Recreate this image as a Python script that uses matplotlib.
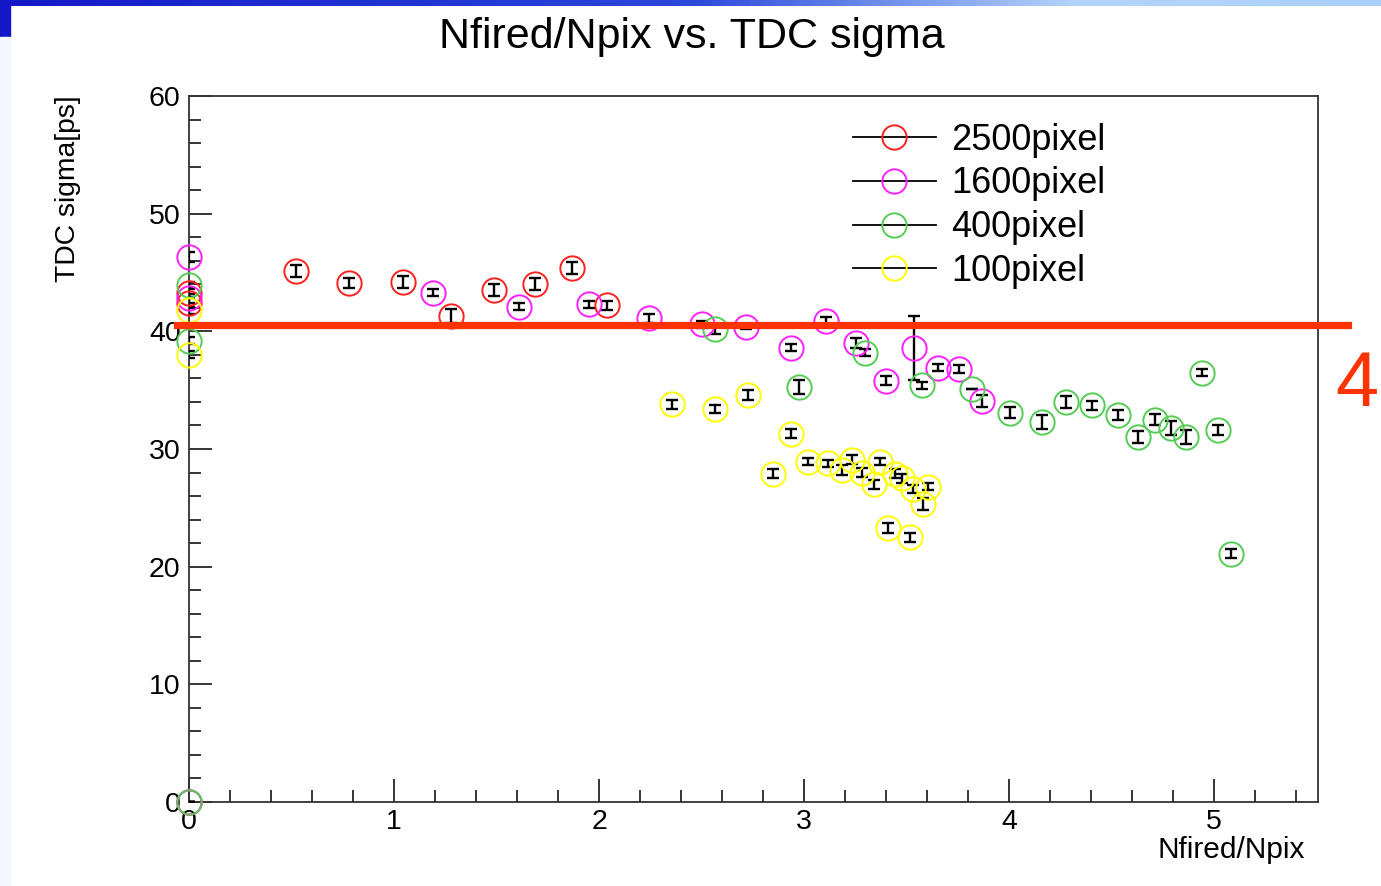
# plot.py
# Nfired/Npix vs. TDC sigma (ROOT-style scatter with error bars)

import numpy as np
import matplotlib
matplotlib.use("Agg")
import matplotlib.pyplot as plt
from matplotlib.lines import Line2D
from matplotlib.patches import Rectangle
from matplotlib.colors import LinearSegmentedColormap

plt.rcParams["font.family"] = ["Liberation Sans", "DejaVu Sans"]

# --- data ---
x_2500 = [0, 0, 0, 0.52, 0.78, 1.045, 1.28, 1.49, 1.69, 1.87, 2.04]
y_2500 = [0, 43.3, 42.4, 45.1, 44.1, 44.2, 41.3, 43.5, 44.0, 45.4, 42.2]
e_2500 = [0, 0.4, 0.4, 0.5, 0.4, 0.5, 0.6, 0.5, 0.5, 0.5, 0.4]

x_1600 = [0, 0, 0, 1.19, 1.61, 1.95, 2.245, 2.50, 2.717, 2.935, 3.107,
          3.254, 3.40, 3.537, 3.655, 3.758, 3.867]
y_1600 = [0, 46.3, 42.8, 43.3, 42.1, 42.3, 41.1, 40.6, 40.4, 38.6, 40.9,
          39.0, 35.8, 38.6, 36.9, 36.8, 34.1]
e_1600 = [0, 0.4, 0.4, 0.3, 0.3, 0.3, 0.4, 0.3, 0.2, 0.3, 0.3,
          0.4, 0.4, 2.7, 0.3, 0.3, 0.5]

x_400 = [0, 0, 0, 2.566, 2.977, 3.298, 3.574, 3.818, 4.005, 4.159, 4.278,
         4.403, 4.530, 4.628, 4.712, 4.790, 4.862, 4.940, 5.018, 5.083]
y_400 = [0, 43.9, 39.2, 40.2, 35.3, 38.2, 35.4, 35.1, 33.1, 32.3, 34.0,
         33.7, 32.9, 31.0, 32.5, 31.8, 31.0, 36.5, 31.6, 21.1]
e_400 = [0, 0.3, 0.3, 0.4, 0.6, 0.3, 0.3, 0, 0.5, 0.6, 0.5,
         0.4, 0.4, 0.5, 0.5, 0.6, 0.6, 0.3, 0.4, 0.4]

x_100 = [0, 0, 2.358, 2.566, 2.728, 2.847, 2.935, 3.021, 3.119, 3.184,
         3.233, 3.281, 3.343, 3.371, 3.411, 3.444, 3.477, 3.517, 3.533,
         3.579, 3.606]
y_100 = [41.8, 38.0, 33.8, 33.4, 34.6, 27.9, 31.3, 28.9, 28.8, 28.2,
         29.1, 28.0, 27.0, 28.9, 23.3, 27.9, 27.5, 22.5, 26.6,
         25.3, 26.8]
e_100 = [0.3, 0.3, 0.4, 0.3, 0.4, 0.4, 0.4, 0.3, 0.3, 0.4,
         0.4, 0.4, 0.4, 0.3, 0.4, 0.4, 0.4, 0.4, 0.3,
         0.5, 0.3]

labels = ["2500pixel", "1600pixel", "400pixel", "100pixel"]
colors = ["#ff2020", "#ff20ff", "#55cc55", "#ffff00"]

threshold = 40.55   # hand-drawn red line
red_note = "4"

series = [(x_2500, y_2500, e_2500), (x_1600, y_1600, e_1600),
          (x_400, y_400, e_400), (x_100, y_100, e_100)]

W, H = 1381, 886
fig = plt.figure(figsize=(W / 100, H / 100), dpi=100)

# slide decoration: gradient bar on top, blue corner on the left
grad_ax = fig.add_axes([0, 1 - 6 / H, 1, 6 / H])
cmap = LinearSegmentedColormap.from_list(
    "bar", [(0, "#1418c8"), (0.5, "#2a48da"), (0.78, "#b4d4fb"), (1, "#a8d0fa")])
grad_ax.imshow(np.linspace(0, 1, 256)[None, :], aspect="auto", cmap=cmap)
grad_ax.axis("off")
fig.patches.append(Rectangle((0, 1 - 37 / H), 10 / W, 37 / H,
                             transform=fig.transFigure, color="#1418c8", zorder=0))
fig.patches.append(Rectangle((0, 0), 10 / W, 1 - 37 / H,
                             transform=fig.transFigure, color="#f5f7ff", zorder=0))

# --- main axes ---
left, right, top, bottom = 189, 1318, 96, 802
ax = fig.add_axes([left / W, 1 - bottom / H, (right - left) / W, (bottom - top) / H])

for (xs, ys, es), c in zip(series, colors):
    ax.errorbar(xs, ys, yerr=es, fmt="none", ecolor="black", elinewidth=1.7,
                capsize=4.5, capthick=1.7, zorder=3)
    ax.plot(xs, ys, "o", mfc="none", mec=c, ms=17.5, mew=1.4, zorder=4, clip_on=False)

ax.set_xlim(0, 5.507)
ax.set_ylim(0, 60)
ax.set_xticks([0, 1, 2, 3, 4, 5])
ax.set_xticks(np.arange(0.2, 5.5, 0.2), minor=True)
ax.set_yticks([0, 10, 20, 30, 40, 50, 60])
ax.set_yticks(np.arange(2, 60, 2), minor=True)
ax.tick_params(which="both", direction="in", top=False, right=False,
               width=1.1, labelsize=20.5)
ax.tick_params(which="major", length=16.5)
ax.tick_params(which="minor", length=8.5)
ax.tick_params(axis="y", pad=6)
ax.tick_params(axis="x", pad=5)
for sp in ax.spines.values():
    sp.set_linewidth(1.3)
    sp.set_color("#333333")

# legend
handles = [Line2D([], [], color="black", lw=1.3, marker="o", mfc="none",
                  mec=c, ms=17.5, mew=1.4) for c in colors]
ax.legend(handles, labels, loc="upper left", bbox_to_anchor=(0.588, 0.962),
          frameon=False, fontsize=26, handlelength=2.3, handletextpad=0.42,
          labelspacing=0.24, borderpad=0, borderaxespad=0)

# red annotation line across the plot
ax.axhline(threshold, xmin=(177 - left) / (right - left),
           xmax=(1348 - left) / (right - left), color="#ff3300", lw=5.2,
           clip_on=False, zorder=6)
fig.text(1357 / W, 1 - 385 / H, red_note, color="#ff3300", fontsize=56,
         ha="center", va="center")

# titles
fig.text(692 / W, 1 - 37 / H, "Nfired/Npix vs. TDC sigma", fontsize=31,
         ha="center", va="center")
fig.text(68 / W, 1 - 95 / H, "TDC sigma[ps]", fontsize=20.3, rotation=90,
         ha="center", va="top")
fig.text(1305 / W, 1 - 850 / H, "Nfired/Npix", fontsize=21.5,
         ha="right", va="center")

fig.savefig("out.png", dpi=100)
